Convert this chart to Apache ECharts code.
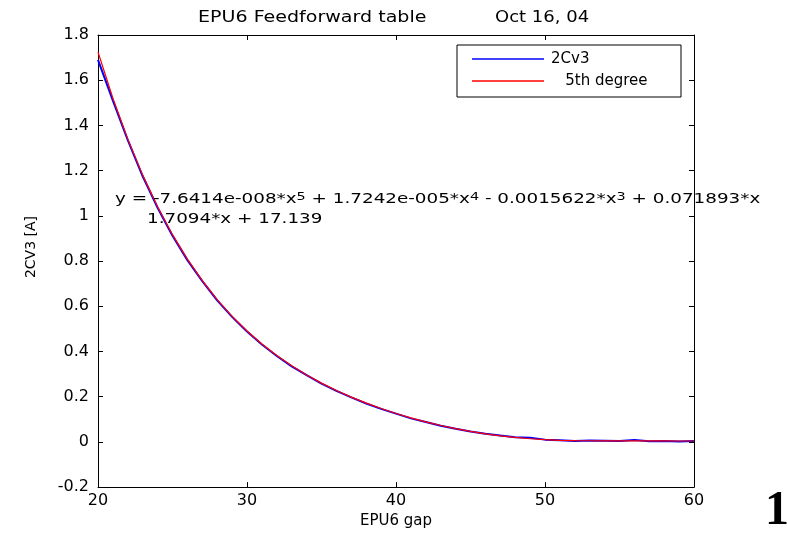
<!DOCTYPE html>
<html>
<head>
<meta charset="utf-8">
<title>EPU6 Feedforward table</title>
<script src="https://cdn.jsdelivr.net/npm/echarts@6/dist/echarts.min.js"></script>
<style>
  html, body { margin: 0; padding: 0; background: #fff; }
  #chart { width: 787px; height: 534px; }
</style>
</head>
<body>
<div id="chart"></div>
<script>
// EPU6 gap positions [mm]
const gapX = [20, 21, 22, 23, 24, 25, 26, 27, 28, 29,
              30, 31, 32, 33, 34, 35, 36, 37, 38, 39,
              40, 41, 42, 43, 44, 45, 46, 47, 48, 49,
              50, 51, 52, 53, 54, 55, 56, 57, 58, 59, 60];

// Measured 2Cv3 corrector current [A]
const measured2Cv3 = [1.690, 1.510, 1.335, 1.175, 1.036, 0.912, 0.804, 0.711, 0.626, 0.553,
                      0.488, 0.431, 0.380, 0.334, 0.295, 0.258, 0.226, 0.197, 0.170, 0.146,
                      0.125, 0.104, 0.088, 0.071, 0.058, 0.046, 0.036, 0.028, 0.021, 0.018,
                      0.010, 0.007, 0.004, 0.006, 0.005, 0.004, 0.008, 0.003, 0.004, 0.002, 0.004];

// 5th degree polynomial fit [A]
const fit5th = [1.7248, 1.5201, 1.3393, 1.1801, 1.0399, 0.9167, 0.8083, 0.7131, 0.6293, 0.5555,
                0.4905, 0.4330, 0.3820, 0.3367, 0.2962, 0.2600, 0.2274, 0.1980, 0.1715, 0.1475,
                0.1257, 0.1061, 0.0884, 0.0726, 0.0586, 0.0463, 0.0357, 0.0269, 0.0196, 0.0139,
                0.0096, 0.0067, 0.0055, 0.0050, 0.0048, 0.0046, 0.0045, 0.0045, 0.0042, 0.0040, 0.0040];

const xTicks = { min: 20, max: 60, interval: 10 };
const yTicks = { min: -0.2, max: 1.8, interval: 0.2 };

const titleLeft = 'EPU6 Feedforward table';
const titleRight = 'Oct 16, 04';
const eqLine1 = 'y = -7.6414e-008*x{sup|5} + 1.7242e-005*x{sup|4} - 0.0015622*x{sup|3} + 0.071893*x';
const eqLine2 = '1.7094*x + 17.139';
const seriesNames = ['2Cv3', '5th degree'];

const FONT = 'DejaVu Sans';
const INK = '#000';

const pairs = (xs, ys) => xs.map((x, i) => [x, ys[i]]);

const chart = echarts.init(document.getElementById('chart'), null, { renderer: 'canvas' });

// Box-style axis: line on the plot edge, inward ticks, no grid lines
const frameAxis = (extra) => Object.assign({
  type: 'value',
  axisLine: { show: true, onZero: false, lineStyle: { color: INK, width: 1 } },
  axisTick: { show: true, inside: true, length: 5, lineStyle: { color: INK } },
  splitLine: { show: false },
  axisLabel: { show: false }
}, extra);

chart.setOption({
  animation: false,
  backgroundColor: '#fff',
  grid: { left: 98, right: 93, top: 35, bottom: 46, containLabel: false },
  xAxis: [
    frameAxis({
      position: 'bottom', min: xTicks.min, max: xTicks.max, interval: xTicks.interval,
      axisLabel: { show: true, color: INK, fontFamily: FONT, fontSize: 16, margin: 6 },
      name: 'EPU6 gap', nameLocation: 'middle', nameGap: 25,
      nameTextStyle: { color: INK, fontFamily: FONT, fontSize: 15 }
    }),
    frameAxis({ position: 'top', min: xTicks.min, max: xTicks.max, interval: xTicks.interval })
  ],
  yAxis: [
    frameAxis({
      position: 'left', min: yTicks.min, max: yTicks.max, interval: yTicks.interval,
      axisLabel: { show: true, color: INK, fontFamily: FONT, fontSize: 16, margin: 9 },
      name: '2CV3 [A]', nameLocation: 'middle', nameGap: 60,
      nameTextStyle: { color: INK, fontFamily: FONT, fontSize: 14, padding: [0, 0, 0, 28] }
    }),
    frameAxis({ position: 'right', min: yTicks.min, max: yTicks.max, interval: yTicks.interval })
  ],
  legend: {
    orient: 'vertical',
    left: 457, top: 45,
    data: seriesNames,
    selectedMode: false,
    backgroundColor: '#fff',
    borderColor: INK, borderWidth: 1, borderRadius: 0,
    padding: [5, 12, 7, 15],
    itemGap: 4,
    itemWidth: 72, itemHeight: 1.5,
    icon: 'rect',
    formatter: (name) => (name === '5th degree' ? '   ' + name : name),
    textStyle: { color: INK, fontFamily: FONT, fontSize: 15, lineHeight: 18, width: 118, padding: [0, 0, 0, 2] }
  },
  series: [
    {
      name: seriesNames[0], type: 'line', xAxisIndex: 0, yAxisIndex: 0,
      data: pairs(gapX, measured2Cv3),
      showSymbol: false, symbol: 'none',
      lineStyle: { color: '#0000ff', width: 2 }, itemStyle: { color: '#0000ff' },
      z: 2
    },
    {
      name: seriesNames[1], type: 'line', xAxisIndex: 0, yAxisIndex: 0,
      data: pairs(gapX, fit5th),
      showSymbol: false, symbol: 'none',
      lineStyle: { color: '#ff0000', width: 1.2 }, itemStyle: { color: '#ff0000' },
      z: 3
    }
  ],
  graphic: [
    {
      type: 'text', x: 198, y: 18, scaleX: 1.27, z: 10,
      style: { text: titleLeft, fill: INK, fontFamily: FONT, fontSize: 15, align: 'left', verticalAlign: 'middle' }
    },
    {
      type: 'text', x: 495, y: 18, scaleX: 1.2, z: 10,
      style: { text: titleRight, fill: INK, fontFamily: FONT, fontSize: 15, align: 'left', verticalAlign: 'middle' }
    },
    {
      type: 'text', x: 115, y: 199, scaleX: 1.31, z: 10,
      style: {
        text: eqLine1, fill: INK, fontFamily: FONT, fontSize: 14, align: 'left', verticalAlign: 'middle',
        rich: { sup: { fontFamily: FONT, fontSize: 11, verticalAlign: 'top', lineHeight: 11, fill: INK } }
      }
    },
    {
      type: 'text', x: 147, y: 219, scaleX: 1.31, z: 10,
      style: { text: eqLine2, fill: INK, fontFamily: FONT, fontSize: 14, align: 'left', verticalAlign: 'middle' }
    },
    {
      type: 'text', x: 765, y: 512, z: 10,
      style: { text: '1', fill: INK, fontFamily: 'Liberation Serif', fontWeight: 'bold', fontSize: 48, align: 'left', verticalAlign: 'middle' }
    }
  ]
});
</script>
</body>
</html>
